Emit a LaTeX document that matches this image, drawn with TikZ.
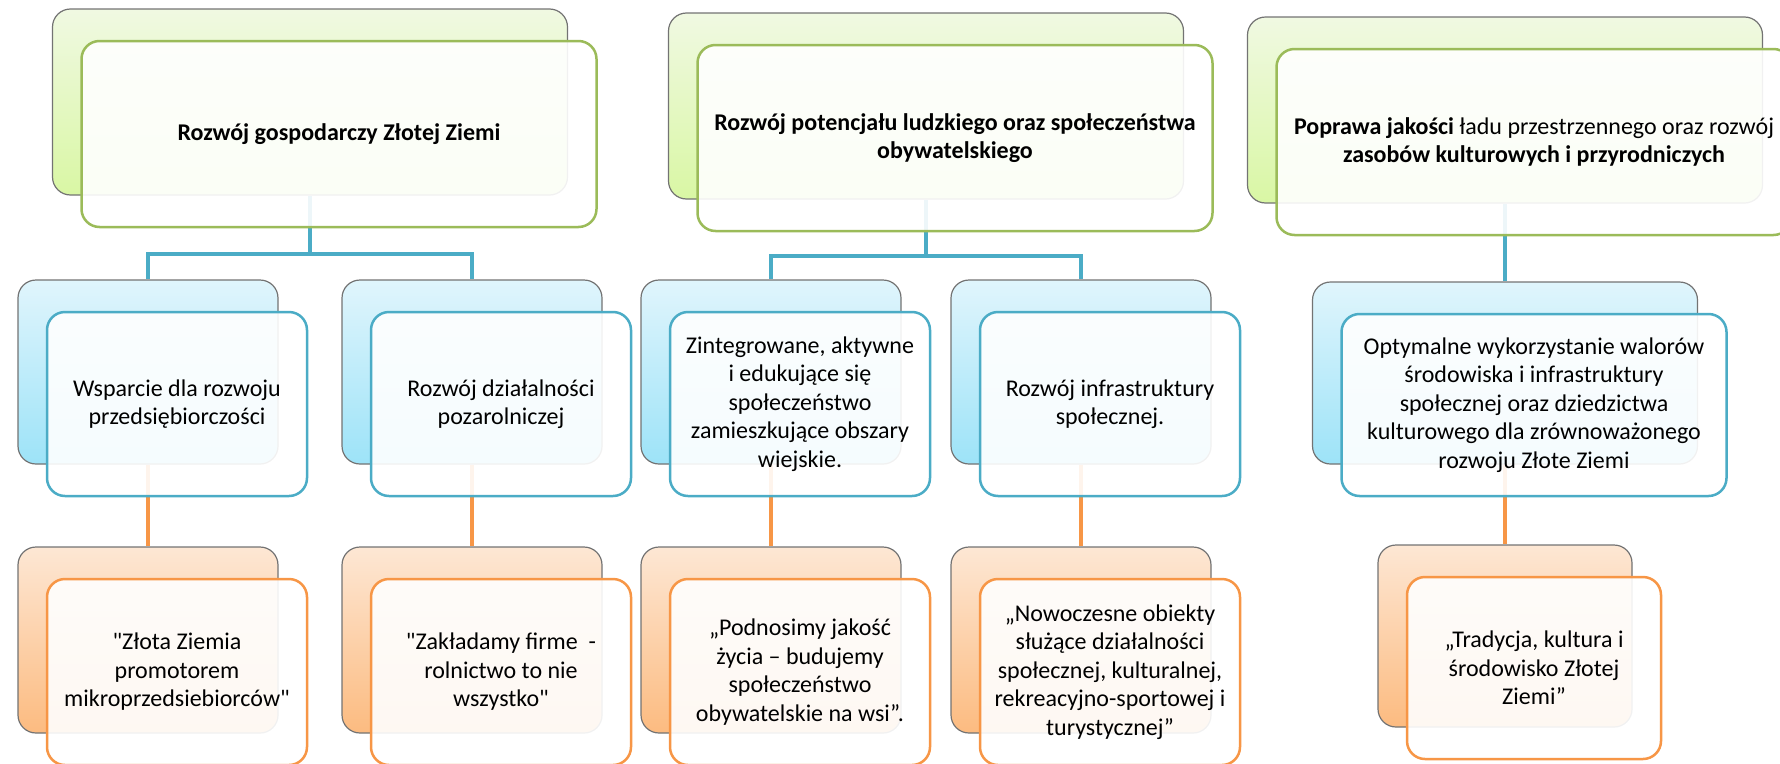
\documentclass[tikz,border=0pt]{standalone}
\usepackage{fontspec}
\setmainfont{Carlito}
\definecolor{grn}{HTML}{9BBB59}
\definecolor{blu}{HTML}{4BACC6}
\definecolor{org}{HTML}{F79646}
\definecolor{gtop}{HTML}{F0F9E2}
\definecolor{gbot}{HTML}{D9F7A4}
\definecolor{btop}{HTML}{E0F5FC}
\definecolor{bbot}{HTML}{9DE3F8}
\definecolor{otop}{HTML}{FDE7D4}
\definecolor{obot}{HTML}{FCBB80}

\begin{document}
\begin{tikzpicture}[x=1pt,y=-1pt,
  every node/.style={font=\fontsize{24}{28.5}\selectfont, align=center, inner sep=0pt},
  rbox/.style={rounded corners=18pt},
  backbox/.style={rbox, draw=black!55, line width=1.2pt},
  frontbox/.style={rbox, fill=white, fill opacity=0.9, text opacity=1, line width=2.5pt},
  topsize/.style={minimum width=515pt, minimum height=186pt},
  midsize/.style={minimum width=260pt, minimum height=184pt},
  widesize/.style={minimum width=385pt, minimum height=182pt},
  lowsize/.style={minimum width=260pt, minimum height=186pt},
  lastsize/.style={minimum width=254pt, minimum height=182pt},
  gback/.style={backbox, top color=gtop, bottom color=gbot},
  bback/.style={backbox, top color=btop, bottom color=bbot},
  oback/.style={backbox, top color=otop, bottom color=obot},
  gfront/.style={frontbox, draw=grn},
  bfront/.style={frontbox, draw=blu},
  ofront/.style={frontbox, draw=org},
  bline/.style={draw=blu, line width=4pt},
  oline/.style={draw=org, line width=4pt}]
  \useasboundingbox (0,0) rectangle (1780,763);
  \clip (0,0) rectangle (1780,763);

  \foreach \n/\x/\y in {1/310/102, 2/926/106, 3/1505/110}
    \node[gback, topsize] (g\n) at (\x,\y) {};
  \foreach \n/\x in {1/148, 2/472, 3/771, 4/1081}
    \node[bback, midsize] (b\n) at (\x,372) {};
  \node[bback, widesize] (b5) at (1505,373) {};
  \foreach \n/\x in {1/148, 2/472, 3/771, 4/1081}
    \node[oback, lowsize] (o\n) at (\x,640) {};
  \node[oback, lastsize] (o5) at (1505,636) {};

  \draw[bline] (g1.south) -- ++(0,58) -| (b1.north)
               (g1.south) ++(0,58) -| (b2.north);
  \draw[bline] (g2.south) -- ++(0,56) -| (b3.north)
               (g2.south) ++(0,56) -| (b4.north);
  \draw[bline] (g3.south) -- (b5.north);
  \foreach \n in {1,...,5}
    \draw[oline] (b\n.south) -- (o\n.north);

  \node[gfront, topsize, font=\fontsize{24}{28.5}\selectfont\bfseries] (g1f) at ([shift={(29,32)}]g1)
    {Rozwój gospodarczy Złotej Ziemi};
  \node[gfront, topsize, font=\fontsize{24}{28.5}\selectfont\bfseries] (g2f) at ([shift={(29,32)}]g2)
    {Rozwój potencjału ludzkiego oraz społeczeństwa\\obywatelskiego};
  \node[gfront, topsize] (g3f) at ([shift={(29,32)}]g3)
    {\textbf{Poprawa jakości} ładu przestrzennego oraz rozwój\\\textbf{zasobów kulturowych i przyrodniczych}};

  \foreach \n/\t in {1/{Wsparcie dla rozwoju\\przedsiębiorczości},
                     2/{Rozwój działalności\\pozarolniczej},
                     3/{Zintegrowane, aktywne\\i edukujące się\\społeczeństwo\\zamieszkujące obszary\\wiejskie.},
                     4/{Rozwój infrastruktury\\społecznej.}}
    \node[bfront, midsize] (b\n f) at ([shift={(29,32)}]b\n) {\t};
  \node[bfront, widesize] (b5f) at ([shift={(29,32)}]b5)
    {Optymalne wykorzystanie walorów\\środowiska i infrastruktury\\społecznej oraz dziedzictwa\\kulturowego dla zrównoważonego\\rozwoju Złote Ziemi};

  \foreach \n/\t in {1/{\textquotedbl Złota Ziemia\\promotorem\\mikroprzedsiebiorców\textquotedbl},
                     2/{\textquotedbl Zakładamy firme\ \ -\\rolnictwo to nie\\wszystko\textquotedbl},
                     3/{„Podnosimy jakość\\życia – budujemy\\społeczeństwo\\obywatelskie na wsi”.},
                     4/{„Nowoczesne obiekty\\służące działalności\\społecznej, kulturalnej,\\rekreacyjno-sportowej i\\turystycznej”}}
    \node[ofront, lowsize] (o\n f) at ([shift={(29,32)}]o\n) {\t};
  \node[ofront, lastsize] (o5f) at ([shift={(29,32)}]o5)
    {„Tradycja, kultura i\\środowisko Złotej\\Ziemi”};
\end{tikzpicture}
\end{document}
